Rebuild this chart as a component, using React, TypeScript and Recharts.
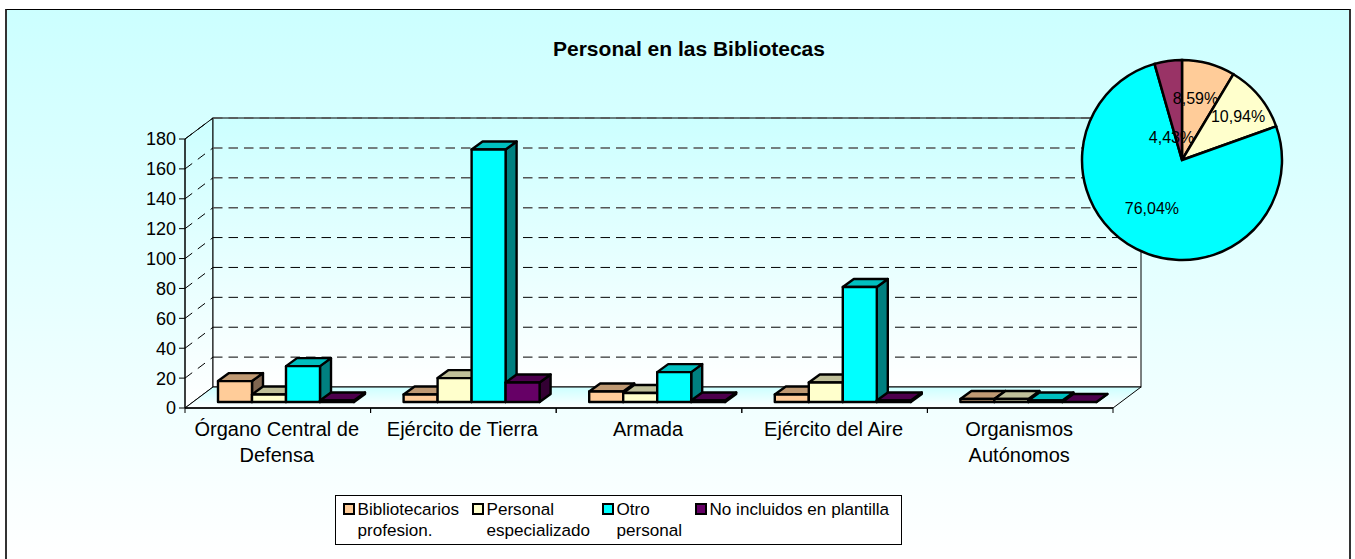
import { Bar, CartesianGrid, Cell, ComposedChart, Legend, Pie, PieChart, XAxis, YAxis } from 'recharts';

const FONT = '"Liberation Sans", Arial, sans-serif';

const categories = ['Órgano Central de Defensa', 'Ejército de Tierra', 'Armada', 'Ejército del Aire', 'Organismos Autónomos'];
const categoryLines: Record<string, string[]> = {
  'Órgano Central de Defensa': ['Órgano Central de', 'Defensa'],
  'Ejército de Tierra': ['Ejército de Tierra'],
  Armada: ['Armada'],
  'Ejército del Aire': ['Ejército del Aire'],
  'Organismos Autónomos': ['Organismos', 'Autónomos'],
};

const bibliotecarios = [14, 5, 7, 5, 2];
const especializado = [5, 16, 6, 13, 2];
const otro = [24, 169, 20, 77, 1];
const noIncluidos = [1, 13, 1, 1, 0];

const yTicks = [0, 20, 40, 60, 80, 100, 120, 140, 160, 180];

const seriesNames = ['Bibliotecarios profesion.', 'Personal especializado', 'Otro personal', 'No incluidos en plantilla'];
const pieLabels = ['Bibliotecarios', 'Personal', 'Otro', 'No incluidos'];
const pieValues = [33, 42, 292, 17];

const tableData = categories.map((name, i) => ({
  name,
  bibliotecarios: bibliotecarios[i],
  especializado: especializado[i],
  otro: otro[i],
  noIncluidos: noIncluidos[i],
}));
const pieData = pieLabels.map((name, i) => ({ name, value: pieValues[i] }));

const seriesColors = ['#FFCC99', '#FFFFCC', '#00FFFF', '#660066'];
const pieColors = ['#FFCC99', '#FFFFCC', '#00FFFF', '#993366'];
const shades: Record<string, { top: string; side: string }> = {
  '#FFCC99': { top: '#BF9973', side: '#806650' },
  '#FFFFCC': { top: '#BFBF99', side: '#808066' },
  '#00FFFF': { top: '#00BFBF', side: '#008080' },
  '#660066': { top: '#4D004D', side: '#330033' },
};

// plot box on the page
const LEFT = 185;
const RIGHT = 1113;
const TOP = 139;
const BOTTOM = 408;
const WALL_DX = 28;
const WALL_DY = 21;
const BAND = (RIGHT - LEFT) / categories.length;

// where each bar sits inside the floor, and how deep it is
const BAR_DX = 8;
const BAR_DY = 6;
const BAR_DEPTH_X = 11;
const BAR_DEPTH_Y = 8;

const pieLabelRadius = [62, 70, 57, 25];
const pieLabelShift = [[-3, -2], [2, 1], [-4, -2], [-7, 2]];
const legendX = [7, 136, 266, 359];
const legendW = [110, 110, 70, 190];

function Bar3D(props: any) {
  const { x, y, width, height, fill } = props;
  const l = x + BAR_DX;
  const t = y - BAR_DY;
  const r = l + width;
  const b = t + height;
  const s = shades[fill];
  return (
    <g stroke="#000" strokeWidth={2.4} strokeLinejoin="round">
      <polygon fill={s.side} points={`${r},${t} ${r + BAR_DEPTH_X},${t - BAR_DEPTH_Y} ${r + BAR_DEPTH_X},${b - BAR_DEPTH_Y} ${r},${b}`} />
      <polygon fill={s.top} points={`${l},${t} ${l + BAR_DEPTH_X},${t - BAR_DEPTH_Y} ${r + BAR_DEPTH_X},${t - BAR_DEPTH_Y} ${r},${t}`} />
      <rect x={l} y={t} width={width} height={height} fill={fill} />
    </g>
  );
}

function WallLine(props: any) {
  const { x1, x2, y1, index } = props;
  if (Math.abs(y1 - BOTTOM) < 1) return <g key={`g${index}`} />;
  // the upper lines come out softer and greyer in the reference
  const soft = y1 < 250;
  return (
    <g key={`g${index}`} fill="none">
      <line x1={x1} y1={y1} x2={x1 + WALL_DX} y2={y1 - WALL_DY} stroke="#000" strokeDasharray="9 7" />
      <line
        x1={x1 + WALL_DX}
        y1={y1 - WALL_DY}
        x2={x2 + WALL_DX}
        y2={y1 - WALL_DY}
        stroke={soft ? '#555' : '#000'}
        strokeWidth={soft ? 1.5 : 1}
        strokeDasharray="9.5 6"
      />
    </g>
  );
}

function CategoryTick(props: any) {
  const { x, y, payload } = props;
  const lines = categoryLines[payload.value] || [payload.value];
  return (
    <g>
      <line x1={x - BAND / 2} y1={BOTTOM} x2={x - BAND / 2} y2={BOTTOM + 5} stroke="#000" />
      <line x1={x + BAND / 2} y1={BOTTOM} x2={x + BAND / 2} y2={BOTTOM + 5} stroke="#000" />
      {lines.map((line, i) => (
        <text key={line} x={x - 1} y={y + 20 + i * 25.5} textAnchor="middle" fontFamily={FONT} fontSize={20} fill="#000">
          {line}
        </text>
      ))}
    </g>
  );
}

function LegendBox(props: any) {
  const payload = props.payload || [];
  return (
    <div style={{ position: 'relative', width: 567, height: 50, boxSizing: 'border-box', border: '1px solid #000', background: '#fff', fontFamily: FONT, fontSize: 17.1, lineHeight: '21px', color: '#000' }}>
      {payload.map((item: any, i: number) => (
        <div key={item.value} style={{ position: 'absolute', left: legendX[i], top: 3, width: legendW[i] + 15 }}>
          <span style={{ position: 'absolute', left: 0, top: 4, width: 12, height: 12, boxSizing: 'border-box', border: '2.5px solid #000', background: item.color }} />
          <div style={{ marginLeft: 14.5 }}>{item.value}</div>
        </div>
      ))}
    </div>
  );
}

function pieLabel(props: any) {
  const { cx, cy, midAngle, percent, index } = props;
  const a = (midAngle * Math.PI) / 180;
  const r = pieLabelRadius[index];
  return (
    <text x={cx + r * Math.cos(a) + pieLabelShift[index][0]} y={cy - r * Math.sin(a) + pieLabelShift[index][1]} textAnchor="middle" dominantBaseline="central" fontFamily={FONT} fontSize={16} fill="#000">
      {(percent * 100).toFixed(2).replace('.', ',') + '%'}
    </text>
  );
}

export default function App() {
  return (
    <div style={{ position: 'absolute', left: 0, top: 0, width: 1355, height: 559, background: '#fff', overflow: 'hidden' }}>
      <div style={{ position: 'absolute', left: 5, top: 9, width: 1346, height: 550, boxSizing: 'border-box', borderTop: '1px solid #000', borderLeft: '2px solid #333', borderRight: '2px solid #333', background: 'linear-gradient(#CCFFFF, #FFFFFF)' }} />
      <div style={{ position: 'absolute', left: 0, top: 37, width: 1378, textAlign: 'center', fontFamily: FONT, fontWeight: 'bold', fontSize: 21, color: '#000' }}>
        Personal en las Bibliotecas
      </div>
      <svg width={1355} height={559} style={{ position: 'absolute', left: 0, top: 0 }}>
        <defs>
          <linearGradient id="wallFill" x1="0" y1="0" x2="0" y2="1">
            <stop offset="0" stopColor="#CCFFFF" />
            <stop offset="1" stopColor="#FFFFFF" />
          </linearGradient>
        </defs>
        <polygon fill="url(#wallFill)" stroke="#000" points={`${LEFT},${TOP} ${LEFT + WALL_DX},${TOP - WALL_DY} ${LEFT + WALL_DX},${BOTTOM - WALL_DY} ${LEFT},${BOTTOM}`} />
        <rect fill="url(#wallFill)" stroke="#000" x={LEFT + WALL_DX} y={TOP - WALL_DY} width={RIGHT - LEFT} height={BOTTOM - TOP} />
        <polygon fill="url(#wallFill)" stroke="#000" points={`${LEFT},${BOTTOM} ${LEFT + WALL_DX},${BOTTOM - WALL_DY} ${RIGHT + WALL_DX},${BOTTOM - WALL_DY} ${RIGHT},${BOTTOM}`} />
      </svg>
      <div style={{ position: 'absolute', left: 0, top: 0 }}>
        <ComposedChart
          width={1355}
          height={559}
          data={tableData}
          margin={{ left: LEFT - 45, right: 1355 - RIGHT, top: TOP, bottom: 559 - BOTTOM - 60 - 50 }}
          barGap={0}
          barCategoryGap={25}
        >
          <CartesianGrid vertical={false} horizontal={WallLine as any} />
          <XAxis dataKey="name" height={60} interval={0} tick={CategoryTick as any} tickLine={false} axisLine={{ stroke: '#000', strokeWidth: 1.5 }} />
          <YAxis
            width={45}
            domain={[0, 180]}
            ticks={yTicks}
            interval={0}
            tick={{ fontFamily: FONT, fontSize: 18, fill: '#000' }}
            tickSize={6}
            tickMargin={3}
            tickLine={{ stroke: '#000' }}
            axisLine={{ stroke: '#000' }}
          />
          <Bar dataKey="bibliotecarios" name={seriesNames[0]} fill={seriesColors[0]} barSize={34} shape={Bar3D} isAnimationActive={false} />
          <Bar dataKey="especializado" name={seriesNames[1]} fill={seriesColors[1]} barSize={34} shape={Bar3D} isAnimationActive={false} />
          <Bar dataKey="otro" name={seriesNames[2]} fill={seriesColors[2]} barSize={34} shape={Bar3D} isAnimationActive={false} />
          <Bar dataKey="noIncluidos" name={seriesNames[3]} fill={seriesColors[3]} barSize={34} shape={Bar3D} isAnimationActive={false} />
          <Legend content={LegendBox as any} itemSorter={null} wrapperStyle={{ position: 'absolute', left: 335, top: 495, bottom: 'auto', width: 567, height: 50 }} />
        </ComposedChart>
      </div>
      <div style={{ position: 'absolute', left: 1062, top: 40 }}>
        <PieChart width={240} height={240} margin={{ top: 0, right: 0, bottom: 0, left: 0 }}>
          <Pie
            data={pieData}
            dataKey="value"
            cx={120}
            cy={120}
            outerRadius={100}
            startAngle={90}
            endAngle={-270}
            stroke="#000"
            strokeWidth={2.5}
            label={pieLabel}
            labelLine={false}
            isAnimationActive={false}
          >
            {pieColors.map((c) => (
              <Cell key={c} fill={c} />
            ))}
          </Pie>
        </PieChart>
      </div>
    </div>
  );
}
